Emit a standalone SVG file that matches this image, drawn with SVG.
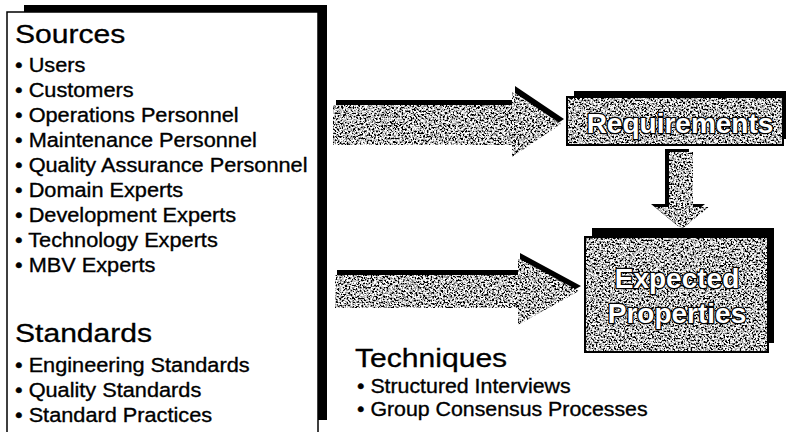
<svg xmlns="http://www.w3.org/2000/svg" width="786" height="432" viewBox="0 0 786 432">
<defs>
<filter id="grain" x="-5%" y="-5%" width="110%" height="110%">
<feTurbulence type="fractalNoise" baseFrequency="0.55" numOctaves="3" seed="7" result="n"/>
<feColorMatrix in="n" type="matrix" values="4 0 0 0 -1.5  4 0 0 0 -1.5  4 0 0 0 -1.5  0 0 0 0 1" result="g"/>
<feComposite in="g" in2="SourceAlpha" operator="in"/>
</filter>
<style>
.h{font-family:"Liberation Sans",Arial,Helvetica,sans-serif;font-size:25.5px;fill:#000;stroke:#000;stroke-width:0.3px}
.b{font-family:"Liberation Sans",Arial,Helvetica,sans-serif;font-size:20.5px;fill:#000;stroke:#000;stroke-width:0.35px}
.t{font-family:"Liberation Sans",Arial,Helvetica,sans-serif;font-size:28px;font-weight:bold;fill:#fff;stroke:#000;stroke-width:2.5px;paint-order:stroke;stroke-linejoin:round;text-anchor:middle}
.shadow{fill:#000}
.tex{fill:#999;filter:url(#grain)}
.edge{fill:none;stroke:#000;stroke-width:2}
</style>
</defs>
<rect width="786" height="432" fill="#fff"/>

<g id="sources">
<rect class="shadow" x="24" y="5" width="303" height="415"/>
<rect x="7" y="12" width="311" height="432" fill="#fff" stroke="#000" stroke-width="1.5"/>
<text class="h" transform="translate(15,43) scale(1.18,1)">Sources</text>
<text class="b" transform="translate(15,72) scale(1.06,1)">• Users</text>
<text class="b" transform="translate(15,97) scale(1.06,1)">• Customers</text>
<text class="b" transform="translate(15,122) scale(1.06,1)">• Operations Personnel</text>
<text class="b" transform="translate(15,147) scale(1.06,1)">• Maintenance Personnel</text>
<text class="b" transform="translate(15,172) scale(1.06,1)">• Quality Assurance Personnel</text>
<text class="b" transform="translate(15,197) scale(1.06,1)">• Domain Experts</text>
<text class="b" transform="translate(15,222) scale(1.06,1)">• Development Experts</text>
<text class="b" transform="translate(15,247) scale(1.06,1)">• Technology Experts</text>
<text class="b" transform="translate(15,272) scale(1.06,1)">• MBV Experts</text>
<text class="h" transform="translate(15,342) scale(1.18,1)">Standards</text>
<text class="b" transform="translate(15,372) scale(1.06,1)">• Engineering Standards</text>
<text class="b" transform="translate(15,397) scale(1.06,1)">• Quality Standards</text>
<text class="b" transform="translate(15,422) scale(1.06,1)">• Standard Practices</text>
</g>

<g id="connectors">
<g id="arrow-sources-requirements">
<polygon class="shadow" points="336,100 515,100 515,86 564,119 515,152 515,140 336,140"/>
<polygon class="tex" points="333,105 512,105 512,91 561,124 512,157 512,145 333,145"/>
</g>
<g id="arrow-requirements-expected">
<polygon class="shadow" points="665,149 689,149 689,204 705,204 678,226 651,204 665,204"/>
<polygon class="tex" points="669,152 693,152 693,207 709,207 682,229 655,207 669,207"/>
</g>
<g id="arrow-techniques-expected">
<polygon class="shadow" points="337,270 520,270 520,253 581,286 520,320 520,303 337,303"/>
<polygon class="tex" points="335,275 518,275 518,258 579,291 518,325 518,308 335,308"/>
</g>
</g>

<g id="requirements">
<rect class="shadow" x="574" y="91" width="216" height="48"/>
<rect class="tex" x="567" y="97" width="216" height="48"/>
<rect class="edge" x="567" y="97" width="216" height="48"/>
<text class="t" x="680" y="133">Requirements</text>
</g>

<g id="expected">
<rect class="shadow" x="592" y="228" width="182" height="115"/>
<rect class="tex" x="585" y="237" width="183" height="115"/>
<rect class="edge" x="585" y="237" width="183" height="115"/>
<text class="t" x="677" y="288">Expected</text>
<text class="t" x="677" y="323">Properties</text>
</g>

<g id="techniques">
<text class="h" transform="translate(355,367) scale(1.18,1)">Techniques</text>
<text class="b" transform="translate(357,393) scale(1.04,1)">• Structured Interviews</text>
<text class="b" transform="translate(357,416) scale(1.04,1)">• Group Consensus Processes</text>
</g>
</svg>
